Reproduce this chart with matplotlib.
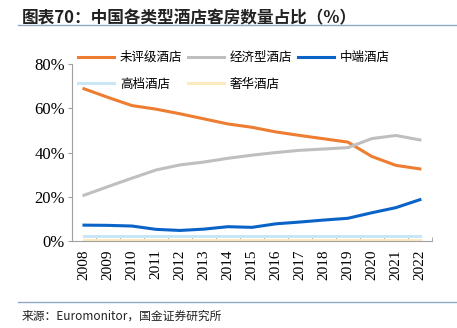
import matplotlib
matplotlib.use("Agg")
import matplotlib.pyplot as plt
from matplotlib.lines import Line2D

plt.rcParams['font.family'] = ['Noto Sans CJK SC', 'DejaVu Sans']

years = [str(y) for y in range(2008, 2023)]
unrated = [68.8, 64.9, 61.2, 59.6, 57.5, 55.2, 52.9, 51.4, 49.3, 47.7, 46.2, 44.7, 38.2, 34.2, 32.6]
economy = [20.7, 24.6, 28.4, 32.1, 34.4, 35.7, 37.4, 38.8, 40.0, 41.0, 41.6, 42.2, 46.3, 47.7, 45.7]
midscale = [7.2, 7.1, 6.8, 5.3, 4.8, 5.4, 6.5, 6.2, 7.8, 8.6, 9.5, 10.3, 12.8, 15.1, 18.7]
upscale = [2.1, 2.1, 2.1, 2.1, 2.1, 2.1, 2.1, 2.1, 2.1, 2.1, 2.1, 2.1, 2.1, 2.1, 2.1]
luxury = [0.5, 0.5, 0.5, 0.5, 0.5, 0.5, 0.5, 0.5, 0.5, 0.5, 0.5, 0.5, 0.5, 0.5, 0.5]

series = [
    ("未评级酒店", unrated, "#ED7D31"),
    ("经济型酒店", economy, "#BFBFBF"),
    ("中端酒店", midscale, "#0A64C8"),
    ("高档酒店", upscale, "#C9E6F7"),
    ("奢华酒店", luxury, "#FCE9BE"),
]

fig = plt.figure(figsize=(4.57, 3.28), dpi=100)
ax = fig.add_axes([0.1575, 0.265, 0.7875, 0.54])

x = list(range(len(years)))
for name, vals, color in series:
    ax.plot(x, vals, color=color, lw=2.2, label=name)

ax.set_xlim(-0.5, len(years) - 0.5)
ax.set_ylim(0, 80)
ax.set_yticks([0, 20, 40, 60, 80])
ax.set_yticklabels(["0%", "20%", "40%", "60%", "80%"], family="Liberation Serif", fontsize=12)
ax.set_xticks(x)
ax.set_xticklabels(years, rotation=90, family="Liberation Serif", fontsize=11)
ax.set_xticks([i + 0.5 for i in range(len(years))], minor=True)
ax.tick_params(axis='x', which='major', length=0, pad=6)
ax.tick_params(axis='x', which='minor', direction='in', length=3, color="#A0A0A0")
ax.tick_params(axis='y', length=3, color="#A0A0A0", pad=2)
for s in ['top', 'right']:
    ax.spines[s].set_visible(False)
for s in ['left', 'bottom']:
    ax.spines[s].set_color("#A0A0A0")

# legend fills column-first, so reorder to get row-wise layout
order = [0, 3, 1, 4, 2]
handles = [Line2D([], [], color=series[i][2], lw=2.2) for i in order]
labels = [series[i][0] for i in order]
fig.legend(handles, labels, ncol=3, loc='upper left', bbox_to_anchor=(0.16, 0.86),
           frameon=False, fontsize=9, handlelength=2.9, handletextpad=0.45,
           columnspacing=0.45, labelspacing=1.1, borderaxespad=0)

fig.text(0.048, 0.945, "图表70：中国各类型酒店客房数量占比（%）", fontsize=12, fontweight='bold',
         color="#222222", va='center')
fig.add_artist(Line2D([0.04, 1.0], [0.923, 0.923], color="#8EA9C1", lw=1))
fig.add_artist(Line2D([0.04, 1.0], [0.079, 0.079], color="#8EA9C1", lw=1))
fig.text(0.048, 0.037, "来源：Euromonitor，国金证券研究所", fontsize=8.5, color="#222222", va='center')

fig.savefig("out.png", dpi=100)
